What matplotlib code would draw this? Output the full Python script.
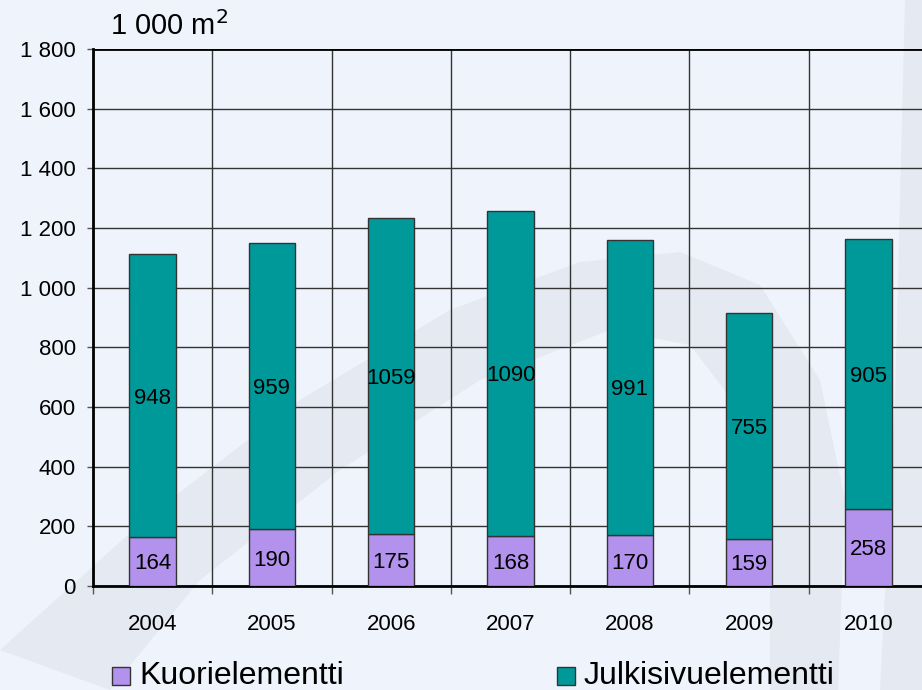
import matplotlib.pyplot as plt
from matplotlib.patches import Rectangle, Polygon
from matplotlib.ticker import FuncFormatter, MultipleLocator

plt.rcParams['font.family'] = ['Liberation Sans', 'DejaVu Sans']

vuodet = ['2004', '2005', '2006', '2007', '2008', '2009', '2010']
kuori = [164, 190, 175, 168, 170, 159, 258]
julkisivu = [948, 959, 1059, 1090, 991, 755, 905]

W, H = 922, 690
fig = plt.figure(figsize=(9.22, 6.9), dpi=100, facecolor='#eff3fb')


def px(pts):
    return [(a / W, 1 - b / H) for a, b in pts]


# taustan kaari
ulko = [(0, 650), (150, 515), (300, 400), (450, 310), (580, 262), (680, 252),
        (760, 285), (820, 380), (845, 500), (838, 690)]
sisa = [(770, 690), (770, 520), (740, 410), (690, 345), (610, 330), (480, 380),
        (340, 470), (200, 580), (110, 690)]
fig.patches.append(Polygon(px(ulko + sisa), closed=True, transform=fig.transFigure,
                           facecolor='#e5e9f2', edgecolor='none', zorder=-1))
oikea = [(905, 0), (922, 0), (922, 690), (880, 690), (895, 400)]
fig.patches.append(Polygon(px(oikea), closed=True, transform=fig.transFigure,
                           facecolor='#e5e9f2', edgecolor='none', zorder=-1))

ax = fig.add_axes([93 / W, 104 / H, 835 / W, 537 / H])
ax.set_facecolor('none')

x = range(len(vuodet))
ax.bar(x, kuori, width=0.39, color='#b292ec', edgecolor='#333333', linewidth=1, zorder=3)
ax.bar(x, julkisivu, width=0.39, bottom=kuori, color='#009999', edgecolor='#333333', linewidth=1, zorder=3)

for i in x:
    ax.text(i, kuori[i] / 2 - 8, str(kuori[i]), ha='center', va='center', fontsize=16, zorder=4)
    ax.text(i, kuori[i] + julkisivu[i] / 2 - 8, str(julkisivu[i]), ha='center', va='center', fontsize=16, zorder=4)

ax.set_xlim(-0.5, len(vuodet) - 0.5)
ax.set_ylim(0, 1800)
ax.yaxis.set_major_locator(MultipleLocator(200))
ax.yaxis.set_major_formatter(FuncFormatter(lambda v, p: f'{int(v):,}'.replace(',', ' ')))
ax.set_xticks(list(x))
ax.set_xticklabels(vuodet)
ax.tick_params(axis='x', length=0, labelsize=16, pad=20)
ax.set_xticks([i + 0.5 for i in range(-1, len(vuodet))], minor=True)
ax.tick_params(axis='x', which='minor', length=6, width=1, color='#555555')
ax.tick_params(axis='y', length=4.5, width=1, labelsize=16, pad=8, color='#555555')

ax.grid(True, axis='y', color='#333333', linewidth=1, zorder=1)
ax.grid(True, axis='x', which='minor', color='#333333', linewidth=1, zorder=1)
for s in ['top', 'right']:
    ax.spines[s].set_visible(False)
ax.spines['left'].set_linewidth(2)
ax.spines['bottom'].set_linewidth(2)
ax.axhline(1800, color='black', linewidth=2, zorder=2)

fig.text(110 / W, 1 - 26 / H, '1 000 m$^2$', fontsize=21, va='center', ha='left')

fig.patches.append(Rectangle((112 / W, 1 - 685 / H), 18 / W, 18 / H, transform=fig.transFigure,
                             facecolor='#b292ec', edgecolor='#333333', linewidth=1))
fig.text(139 / W, 1 - 676 / H, 'Kuorielementti', fontsize=23, va='center')
fig.patches.append(Rectangle((557 / W, 1 - 685 / H), 18 / W, 18 / H, transform=fig.transFigure,
                             facecolor='#009999', edgecolor='#333333', linewidth=1))
fig.text(584 / W, 1 - 676 / H, 'Julkisivuelementti', fontsize=23, va='center')

fig.savefig('out.png', dpi=100, facecolor=fig.get_facecolor())
